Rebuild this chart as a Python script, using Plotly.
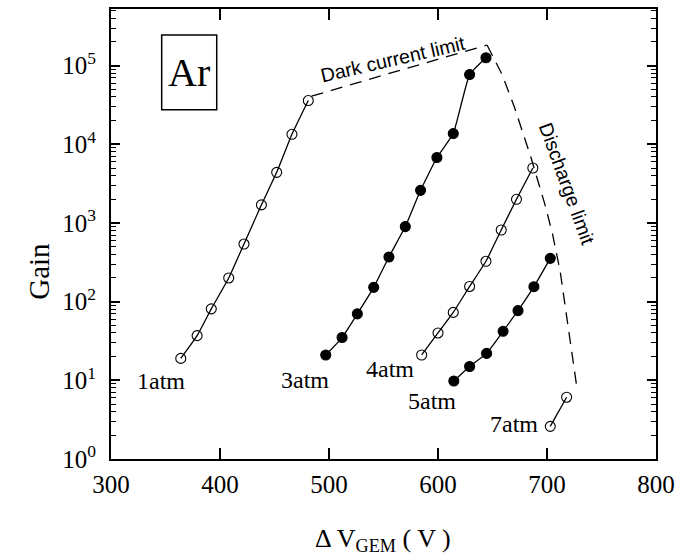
import plotly.graph_objects as go

# ---- data ----
v_1atm = [364, 379, 392, 408, 422, 438, 452, 466, 481]
g_1atm = [19, 37, 81, 200, 540, 1700, 4400, 13400, 36000]

v_3atm = [497, 512, 526, 541, 555, 570, 584, 599, 614, 629, 644]
g_3atm = [21, 35, 70, 152, 370, 900, 2600, 6800, 13700, 77000, 126000]

v_4atm = [585, 600, 614, 629, 644, 658, 672, 687]
g_4atm = [21, 40, 73, 156, 326, 815, 2000, 5000]

v_5atm = [614.5, 629, 644.6, 659.7, 673.4, 688, 703]
g_5atm = [9.8, 15, 22, 42, 77, 155, 355]

v_7atm = [703, 718]
g_7atm = [2.6, 6.1]

dark_v = [484, 645]
dark_g = [41000, 183000]

dis_v = [645, 659, 670, 685, 698, 705, 712, 723, 727]
dis_g = [183000, 76000, 30000, 7000, 1740, 730, 247, 21, 8.9]

series_labels = ["1atm", "3atm", "4atm", "5atm", "7atm"]
y_tick_vals = [1, 10, 100, 1000, 10000, 100000]
y_tick_text = ["10<sup>0</sup>", "10<sup>1</sup>", "10<sup>2</sup>",
               "10<sup>3</sup>", "10<sup>4</sup>", "10<sup>5</sup>"]
x_tick_vals = [300, 400, 500, 600, 700, 800]

SERIF = "Liberation Serif"
SANS = "Liberation Sans"

fig = go.Figure()

def add_series(v, g, filled):
    fig.add_trace(go.Scatter(
        x=v, y=g, mode="lines+markers",
        line=dict(color="black", width=1.3, shape="spline", smoothing=0.4),
        marker=dict(symbol="circle" if filled else "circle-open", size=10,
                    color="black", line=dict(color="black", width=1.1)),
        showlegend=False, hoverinfo="skip"))

add_series(v_1atm, g_1atm, False)
add_series(v_3atm, g_3atm, True)
add_series(v_4atm, g_4atm, False)
add_series(v_5atm, g_5atm, True)
add_series(v_7atm, g_7atm, False)

for vv, gg in [(dark_v, dark_g), (dis_v, dis_g)]:
    fig.add_trace(go.Scatter(
        x=vv, y=gg, mode="lines",
        line=dict(color="black", width=1.3, dash="12px,8px"),
        showlegend=False, hoverinfo="skip"))

minor_vals = [k * 10 ** d for d in range(0, 6) for k in range(2, 10)]

fig.update_xaxes(
    range=[300, 800], tickvals=x_tick_vals, ticks="inside", ticklen=11,
    tickwidth=1.5, tickcolor="black", showline=True, linecolor="black",
    linewidth=2, mirror="ticks", showgrid=False, zeroline=False,
    ticklabelstandoff=2,
    tickfont=dict(family=SERIF, size=25, color="black"))
fig.update_yaxes(
    type="log", range=[0, 5.72], tickvals=y_tick_vals, ticktext=y_tick_text,
    ticks="inside", ticklen=9, tickwidth=1.5, tickcolor="black",
    showline=True, linecolor="black", linewidth=2, mirror="ticks",
    showgrid=False, zeroline=False, ticklabelstandoff=8,
    minor=dict(ticks="inside", ticklen=5, tickcolor="black", tickwidth=1,
               tickvals=minor_vals, showgrid=False),
    tickfont=dict(family=SERIF, size=25, color="black"))

annotations = []
label_pos = [(0.0916, 0.1726), (0.3556, 0.1748), (0.5116, 0.1991),
             (0.5886, 0.1283), (0.7397, 0.0774)]
for lab, (px, py) in zip(series_labels, label_pos):
    annotations.append(dict(x=px, y=py, xref="paper", yref="paper",
                            text=lab, showarrow=False,
                            font=dict(family=SERIF, size=24, color="black"),
                            xanchor="center", yanchor="middle"))

annotations += [
    dict(x=0.1435, y=0.859, xref="paper", yref="paper", text="Ar",
         showarrow=False, font=dict(family=SERIF, size=40, color="black"),
         xanchor="center", yanchor="middle"),
    dict(x=0.5176, y=0.889, xref="paper", yref="paper",
         text="Dark current limit", showarrow=False, textangle=-13,
         font=dict(family=SANS, size=19.5, color="black"),
         xanchor="center", yanchor="middle"),
    dict(x=0.8362, y=0.6128, xref="paper", yref="paper",
         text="Discharge limit", showarrow=False, textangle=70,
         font=dict(family=SANS, size=19.5, color="black"),
         xanchor="center", yanchor="middle"),
    dict(x=-0.1323, y=0.418, xref="paper", yref="paper", text="Gain",
         showarrow=False, textangle=-90,
         font=dict(family=SERIF, size=29, color="black"),
         xanchor="center", yanchor="middle"),
    dict(x=0.4994, y=-0.179, xref="paper", yref="paper",
         text="Δ V<sub>GEM</sub> ( V )", showarrow=False,
         font=dict(family=SERIF, size=26, color="black"),
         xanchor="center", yanchor="middle"),
]

fig.update_layout(
    width=682, height=557,
    margin=dict(l=110.7, r=22, t=7, b=98),
    paper_bgcolor="white", plot_bgcolor="white",
    annotations=annotations,
    shapes=[dict(type="rect", xref="paper", yref="paper",
                 x0=0.093, x1=0.194, y0=0.776, y1=0.942,
                 line=dict(color="black", width=1.5))],
)

fig.write_html("out.html", config={"displayModeBar": False},
               post_script="document.body.style.margin='0px';")
